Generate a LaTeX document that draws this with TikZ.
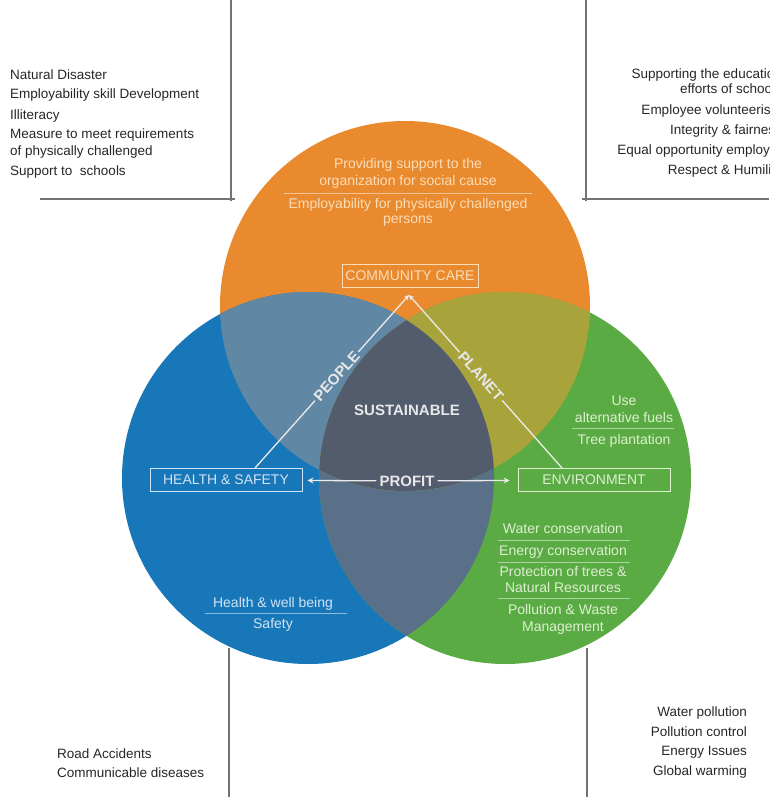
\documentclass[tikz,border=0pt]{standalone}
\usepackage{fontspec}
\setmainfont{Liberation Sans}
\usetikzlibrary{arrows.meta}
\definecolor{corange}{HTML}{E98A2E}
\definecolor{cblue}{HTML}{1877B9}
\definecolor{cgreen}{HTML}{5AAB44}
\definecolor{cbo}{HTML}{6088A4}
\definecolor{cog}{HTML}{A9A33C}
\definecolor{cbg}{HTML}{5A7088}
\definecolor{ctri}{HTML}{535C6D}
\definecolor{torange}{HTML}{FBDDB8}
\definecolor{tblue}{HTML}{CFE4F4}
\definecolor{tgreen}{HTML}{DDF0CF}
\definecolor{tlabel}{HTML}{E8E8E8}
\begin{document}
\begin{tikzpicture}[x=1pt,y=-1pt,
  outtxt/.style={inner sep=0pt, text=black!85, font=\fontsize{13.5}{16}\selectfont},
  intxt/.style={inner sep=0pt, anchor=base, font=\fontsize{14}{16}\selectfont},
  tagbox/.style={draw, line width=0.9pt, minimum height=23pt, inner sep=2pt, font=\fontsize{14}{16}\selectfont},
  biglabel/.style={inner sep=3pt, text=tlabel, font=\fontsize{15}{17}\selectfont\bfseries},
  frame/.style={draw=black!55, line width=1.6pt},
  sepline/.style={draw=white, opacity=0.5, line width=0.6pt},
  link/.style={draw=white!92!black, line width=1.3pt}]
\useasboundingbox (0,0) rectangle (769,797);
\clip (0,0) rectangle (769,797);

% frame lines
\draw[frame] (231,0) -- (231,201);
\draw[frame] (40,199) -- (235,199);
\draw[frame] (586,0) -- (586,201);
\draw[frame] (582,199) -- (769,199);
\draw[frame] (229,648) -- (229,797);
\draw[frame] (587,648) -- (587,797);

% circles
\fill[corange] (405,306) circle (185);
\fill[cblue] (308,478) circle (186);
\fill[cgreen] (505,478) circle (186);
\begin{scope}
\clip (308,478) circle (186);
\fill[cbg] (505,478) circle (186);
\end{scope}
\begin{scope}
\clip (405,306) circle (185);
\fill[cbo] (308,478) circle (186);
\fill[cog] (505,478) circle (186);
\clip (308,478) circle (186);
\fill[ctri] (505,478) circle (186);
\end{scope}

% outer texts
\node[outtxt, anchor=base west] (lt1) at (10,80) {Natural Disaster};
\node[outtxt, anchor=base west] (lt2) at (10,99) {Employability skill Development};
\node[outtxt, anchor=base west] (lt3) at (10,120) {Illiteracy};
\node[outtxt, anchor=base west] (lt4) at (10,139) {Measure to meet requirements};
\node[outtxt, anchor=base west] (lt5) at (10,155) {of physically challenged};
\node[outtxt, anchor=base west] (lt6) at (10,175) {Support to\ \ schools};

\node[outtxt, anchor=base east] (rt1) at (782,79) {Supporting the education};
\node[outtxt, anchor=base east] (rt2) at (782,94) {efforts of schools};
\node[outtxt, anchor=base east] (rt3) at (782,114) {Employee volunteerism};
\node[outtxt, anchor=base east] (rt4) at (782,134) {Integrity \& fairness};
\node[outtxt, anchor=base east] (rt5) at (782,154) {Equal opportunity employer};
\node[outtxt, anchor=base east] (rt6) at (782,174) {Respect \& Humility};

\node[outtxt, anchor=base west] (lb1) at (57,758) {Road Accidents};
\node[outtxt, anchor=base west] (lb2) at (57,777) {Communicable diseases};

\node[outtxt, anchor=base east] (rb1) at (747,716) {Water pollution};
\node[outtxt, anchor=base east] (rb2) at (747,736) {Pollution control};
\node[outtxt, anchor=base east] (rb3) at (747,755) {Energy Issues};
\node[outtxt, anchor=base east] (rb4) at (747,775) {Global warming};

% orange circle texts
\node[intxt, text=torange] (oc1) at (408,168) {Providing support to the};
\node[intxt, text=torange] (oc2) at (408,185) {organization for social cause};
\draw[sepline] (284,193) -- (532,193);
\node[intxt, text=torange] (oc3) at (408,208) {Employability for physically challenged};
\node[intxt, text=torange] (oc4) at (408,223) {persons};

% green circle texts
\node[intxt, text=tgreen] (gu1) at (624,405) {Use};
\node[intxt, text=tgreen] (gu2) at (624,422) {alternative fuels};
\draw[sepline] (572,428) -- (674,428);
\node[intxt, text=tgreen] (gu3) at (624,444) {Tree plantation};

\node[intxt, text=tgreen] (gl1) at (563,533) {Water conservation};
\draw[sepline] (498,540) -- (630,540);
\node[intxt, text=tgreen] (gl2) at (563,555) {Energy conservation};
\draw[sepline] (498,562) -- (630,562);
\node[intxt, text=tgreen] (gl3) at (563,576) {Protection of trees \&};
\node[intxt, text=tgreen] (gl4) at (563,592) {Natural Resources};
\draw[sepline] (498,598) -- (630,598);
\node[intxt, text=tgreen] (gl5) at (563,614) {Pollution \& Waste};
\node[intxt, text=tgreen] (gl6) at (563,631) {Management};

% blue circle texts
\node[intxt, text=tblue] (bl1) at (273,607) {Health \& well being};
\draw[sepline] (205,613) -- (347,613);
\node[intxt, text=tblue] (bl2) at (273,628) {Safety};

% boxes
\node[tagbox, draw=torange, text=torange, minimum width=136pt] (cc) at (410,276) {COMMUNITY CARE};
\node[tagbox, draw=tblue, text=tblue, minimum width=152pt] (hs) at (226,480) {HEALTH \& SAFETY};
\node[tagbox, draw=tgreen, text=tgreen, minimum width=152pt] (env) at (594,480) {ENVIRONMENT};

\node[biglabel] (sust) at (407,410) {SUSTAINABLE};
\node[biglabel] (profit) at (407,481) {PROFIT};

\coordinate (cctip) at (409,295);
\coordinate (hstop) at (255,468);
\coordinate (envtop) at (562,468);
\path (hstop) -- node[biglabel, sloped, pos=0.53, inner sep=2pt] (people) {PEOPLE} (cctip);
\path (cctip) -- node[biglabel, sloped, pos=0.47, inner sep=2pt] (planet) {PLANET} (envtop);

\draw[link] (hstop) -- (people);
\draw[link, -{Stealth[length=5pt,width=5pt]}] (people) -- (cctip);
\draw[link] (envtop) -- (planet);
\draw[link, -{Stealth[length=5pt,width=5pt]}] (planet) -- (cctip);
\draw[link, -{Stealth[length=6pt,width=6pt]}, shorten >=5pt] (profit) -- (hs);
\draw[link, -{Stealth[length=6pt,width=6pt]}, shorten >=8pt] (profit) -- (env);

\end{tikzpicture}
\end{document}
